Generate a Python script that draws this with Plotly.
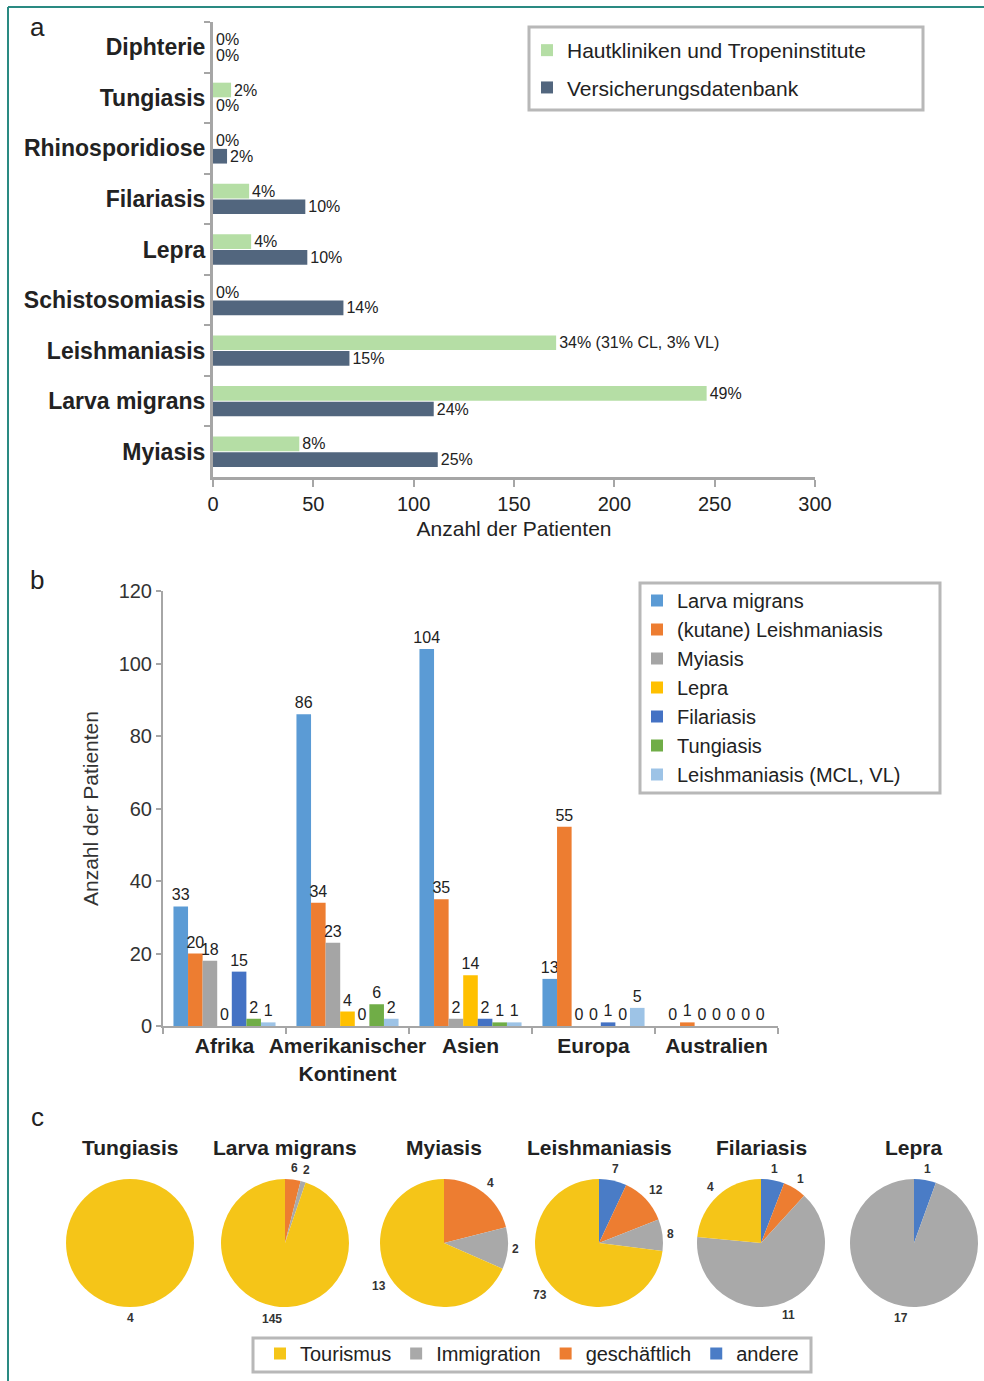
import math
import plotly.graph_objects as go

FONT = "Liberation Sans, Arial, sans-serif"
AXIS_GRAY = "#a6a6a6"
BOX_GRAY = "#b8b8b8"
TXT = "#222222"

# ---------- Panel a data ----------
cats_a = ["Diphterie", "Tungiasis", "Rhinosporidiose", "Filariasis", "Lepra",
          "Schistosomiasis", "Leishmaniasis", "Larva migrans", "Myiasis"]
vals_haut = [0, 9, 0, 18, 19, 0, 171, 246, 43]
text_haut = ["0%", "2%", "0%", "4%", "4%", "0%", "34% (31% CL, 3% VL)", "49%", "8%"]
vals_vers = [0, 0, 7, 46, 47, 65, 68, 110, 112]
text_vers = ["0%", "0%", "2%", "10%", "10%", "14%", "15%", "24%", "25%"]
xticks_a = [0, 50, 100, 150, 200, 250, 300]

# ---------- Panel b data ----------
regions = ["Afrika", "Amerikanischer<br>Kontinent", "Asien", "Europa", "Australien"]
series_b = ["Larva migrans", "(kutane) Leishmaniasis", "Myiasis", "Lepra",
            "Filariasis", "Tungiasis", "Leishmaniasis (MCL, VL)"]
vals_larva = [33, 86, 104, 13, 0]
vals_kutleish = [20, 34, 35, 55, 1]
vals_myiasis = [18, 23, 2, 0, 0]
vals_lepra = [0, 4, 14, 0, 0]
vals_filariasis = [15, 0, 2, 1, 0]
vals_tungiasis = [2, 6, 1, 0, 0]
vals_mclvl = [1, 2, 1, 5, 0]
colors_b = ["#5b9bd5", "#ed7d31", "#a5a5a5", "#ffc000", "#4472c4", "#70ad47", "#9dc3e6"]

# ---------- Panel c data ----------
pie_titles = ["Tungiasis", "Larva migrans", "Myiasis", "Leishmaniasis", "Filariasis", "Lepra"]
labels_c = ["Tourismus", "Immigration", "geschäftlich", "andere"]
pie_tungiasis = [4, 0, 0, 0]
pie_larva = [145, 2, 6, 0]
pie_myiasis = [13, 2, 4, 0]
pie_leish = [73, 8, 12, 7]
pie_filariasis = [4, 11, 1, 1]
pie_lepra = [0, 17, 0, 1]
colors_c = ["#f5c518", "#a9a9a9", "#ed7d31", "#4a7cc6"]

W, H = 984, 1381
def px(x):
    return x / W
def py(y):
    return 1 - y / H

fig = go.Figure()

# ---------- Panel a ----------
fig.add_trace(go.Bar(
    y=cats_a, x=vals_haut, orientation="h", name="Hautkliniken und Tropeninstitute",
    marker=dict(color="#b5dea5", line=dict(width=0)), text=text_haut,
    textposition="outside", constraintext="none", cliponaxis=False,
    textfont=dict(size=16, color=TXT, family=FONT),
    offset=-0.30, width=0.29, xaxis="x", yaxis="y", legend="legend", legendgroup="a1"))
fig.add_trace(go.Bar(
    y=cats_a, x=vals_vers, orientation="h", name="Versicherungsdatenbank",
    marker=dict(color="#52667e", line=dict(width=0)), text=text_vers,
    textposition="outside", constraintext="none", cliponaxis=False,
    textfont=dict(size=16, color=TXT, family=FONT),
    offset=0.01, width=0.29, xaxis="x", yaxis="y", legend="legend", legendgroup="a2"))

# ---------- Panel b ----------
series_vals = [vals_larva, vals_kutleish, vals_myiasis, vals_lepra,
               vals_filariasis, vals_tungiasis, vals_mclvl]
for name, vals, col in zip(series_b, series_vals, colors_b):
    fig.add_trace(go.Bar(
        x=regions, y=vals, name=name, marker=dict(color=col, line=dict(width=0)),
        text=[str(v) for v in vals], textposition="outside", constraintext="none",
        cliponaxis=False, textfont=dict(size=16, color=TXT, family=FONT),
        xaxis="x2", yaxis="y2", legend="legend2"))

# ---------- Panel c ----------
pie_vals = [pie_tungiasis, pie_larva, pie_myiasis, pie_leish, pie_filariasis, pie_lepra]
pie_cx = [130, 285, 444, 599, 761, 914]
pie_cy = 1243
R = 64
for i, (title, vals, cx) in enumerate(zip(pie_titles, pie_vals, pie_cx)):
    vals_cw = vals[::-1]
    fig.add_trace(go.Pie(
        labels=labels_c[::-1], values=vals_cw, sort=False, direction="clockwise",
        rotation=0, marker=dict(colors=colors_c[::-1], line=dict(width=0)),
        textinfo="none",
        domain=dict(x=[px(cx - R), px(cx + R)], y=[py(pie_cy + R), py(pie_cy - R)]),
        legend="legend3", showlegend=True, name=title, hoverinfo="label+value"))
    fig.add_annotation(x=px(cx), y=py(1147), xref="paper", yref="paper",
                       text="<b>%s</b>" % title, showarrow=False,
                       font=dict(size=21, color=TXT, family=FONT),
                       xanchor="center", yanchor="middle")
    # value labels just outside each slice, at the slice's mid angle
    total = float(sum(vals_cw))
    cum = 0.0
    for v in vals_cw:
        if not v:
            continue
        mid = (cum + v / 2.0) / total * 2 * math.pi
        cum += v
        hw = 3.6 * len(str(v))
        d = R + 4 + hw * abs(math.sin(mid)) + 7 * abs(math.cos(mid))
        lx = cx + d * math.sin(mid)
        ly = pie_cy - d * math.cos(mid)
        fig.add_annotation(x=px(lx), y=py(ly), xref="paper", yref="paper",
                           text=str(v), showarrow=False,
                           font=dict(size=12, color="#333333", family=FONT, weight="bold"),
                           xanchor="center", yanchor="middle")

# panel letters
for letter, (lx, ly) in zip(["a", "b", "c"], [(37, 27), (37, 580), (37, 1117)]):
    fig.add_annotation(x=px(lx), y=py(ly), xref="paper", yref="paper", text=letter,
                       showarrow=False, font=dict(size=26, color=TXT, family=FONT),
                       xanchor="center", yanchor="middle")

# frame lines
fig.add_shape(type="line", xref="paper", yref="paper", x0=px(8), x1=1, y0=py(7), y1=py(7),
              line=dict(color="#2a8a82", width=2))
fig.add_shape(type="line", xref="paper", yref="paper", x0=px(8), x1=px(8), y0=0, y1=py(7),
              line=dict(color="#2a8a82", width=2))

# legend boxes
for (x0, y0, x1, y1) in [(529, 27, 923, 110), (640, 583, 940, 793), (253, 1338, 811, 1372)]:
    fig.add_shape(type="rect", xref="paper", yref="paper",
                  x0=px(x0), x1=px(x1), y0=py(y1), y1=py(y0),
                  line=dict(color=BOX_GRAY, width=3), fillcolor="rgba(0,0,0,0)")

fig.update_layout(
    width=W, height=H, margin=dict(l=0, r=0, t=0, b=0, autoexpand=False),
    paper_bgcolor="white", plot_bgcolor="white",
    font=dict(family=FONT, color=TXT),
    barmode="group", bargap=0.17, bargroupgap=0,
    showlegend=True,
    xaxis=dict(domain=[px(213), px(815)], range=[0, 300], tickvals=xticks_a,
               ticks="outside", ticklen=7, tickwidth=2, tickcolor=AXIS_GRAY,
               showline=True, linecolor=AXIS_GRAY, linewidth=3, showgrid=False,
               zeroline=False, tickfont=dict(size=20, color=TXT), automargin=False,
               title=dict(text="Anzahl der Patienten", font=dict(size=21, color=TXT), standoff=8),
               anchor="y", fixedrange=True),
    yaxis=dict(domain=[py(477), py(22)], type="category", categoryorder="array",
               categoryarray=cats_a, range=[8.5, -0.5], tickson="boundaries",
               ticks="outside", ticklen=6, tickwidth=2, tickcolor=AXIS_GRAY,
               showline=True, linecolor=AXIS_GRAY, linewidth=3, showgrid=False,
               automargin=False,
               tickfont=dict(size=23, color=TXT, weight="bold"), anchor="x"),
    xaxis2=dict(domain=[px(163), px(778)], type="category", range=[-0.5, 4.5],
                tickson="boundaries", ticks="outside", ticklen=6, tickwidth=2,
                tickcolor=AXIS_GRAY, showline=True, linecolor=AXIS_GRAY, linewidth=2,
                showgrid=False, tickangle=0, automargin=False,
                tickfont=dict(size=21, color=TXT, weight="bold"),
                anchor="y2"),
    yaxis2=dict(domain=[py(1026), py(591)], range=[0, 120], dtick=20, ticks="outside",
                ticklen=5, tickwidth=2, tickcolor=AXIS_GRAY, showline=True,
                linecolor=AXIS_GRAY, linewidth=2, showgrid=False, zeroline=False,
                automargin=False,
                tickfont=dict(size=20, color="#333333"),
                title=dict(text="Anzahl der Patienten", font=dict(size=21, color="#333333"),
                           standoff=14),
                anchor="x2"),
    legend=dict(x=px(527), y=py(30), xanchor="left", yanchor="top",
                borderwidth=0, bgcolor="rgba(0,0,0,0)",
                font=dict(size=21, color=TXT), traceorder="grouped", tracegroupgap=7),
    legend2=dict(x=px(637), y=py(581), xanchor="left", yanchor="top",
                 borderwidth=0, bgcolor="rgba(0,0,0,0)",
                 font=dict(size=20, color=TXT), traceorder="normal"),
    legend3=dict(x=px(260), y=py(1334), xanchor="left", yanchor="top",
                 orientation="h", borderwidth=0, bgcolor="rgba(0,0,0,0)",
                 traceorder="reversed",
                 font=dict(size=20, color=TXT)),
)

fig.write_html("out.html", config={"displayModeBar": False},
               post_script="document.body.style.margin='0px';document.body.style.overflow='hidden';")
